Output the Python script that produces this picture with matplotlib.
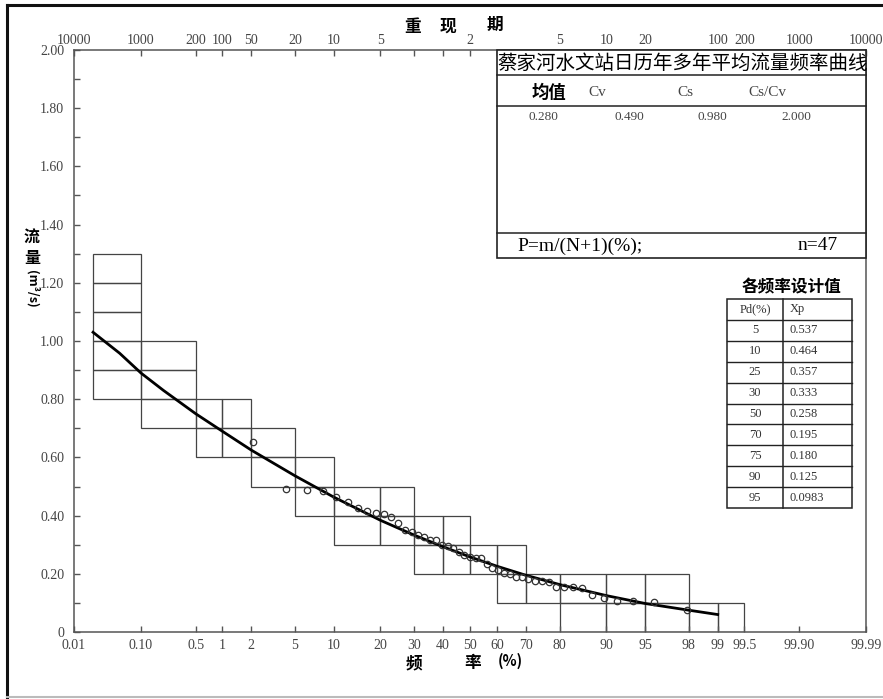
from statistics import NormalDist
import numpy as np
import matplotlib
matplotlib.use('Agg')
import matplotlib.pyplot as plt
from matplotlib.patches import Rectangle
from matplotlib.lines import Line2D

plt.rcParams['font.family'] = ['Noto Sans CJK SC', 'DejaVu Sans']

# ---- data ----
# empirical points, P = m/(N+1) (%)
emp_p = [2.08, 4.17, 6.25, 8.33, 10.42, 12.50, 14.58, 16.67, 18.75, 20.83,
         22.92, 25.00, 27.08, 29.17, 31.25, 33.33, 35.42, 37.50, 39.58, 41.67,
         43.75, 45.83, 47.92, 50.00, 52.08, 54.17, 56.25, 58.33, 60.42, 62.50,
         64.58, 66.67, 68.75, 70.83, 72.92, 75.00, 77.08, 79.17, 81.25, 83.33,
         85.42, 87.50, 89.58, 91.67, 93.75, 95.83, 97.92]
emp_q = [0.654, 0.490, 0.488, 0.485, 0.463, 0.447, 0.426, 0.417, 0.410, 0.407,
         0.396, 0.376, 0.351, 0.344, 0.334, 0.325, 0.316, 0.315, 0.300, 0.297,
         0.288, 0.275, 0.266, 0.257, 0.254, 0.253, 0.234, 0.220, 0.213, 0.204,
         0.198, 0.190, 0.188, 0.182, 0.176, 0.174, 0.173, 0.156, 0.156, 0.154,
         0.152, 0.127, 0.118, 0.108, 0.108, 0.104, 0.076]

# fitted frequency curve
curve_p = [0.02, 0.05, 0.1, 0.2, 0.5, 1, 2, 5, 10, 20, 25, 30, 40, 50,
           60, 70, 75, 80, 90, 95, 98, 99]
curve_q = [1.03, 0.958, 0.89, 0.83, 0.75, 0.69, 0.625, 0.537, 0.464, 0.384,
           0.357, 0.333, 0.293, 0.258, 0.226, 0.195, 0.180, 0.163, 0.125,
           0.098, 0.075, 0.060]

# staircase grid boxes: (lower edge of row, column edges in %)
grid_rows = [
    (1.2, [0.02, 0.1]),
    (1.1, [0.02, 0.1]),
    (1.0, [0.02, 0.1]),
    (0.9, [0.02, 0.1, 0.5]),
    (0.8, [0.02, 0.1, 0.5]),
    (0.7, [0.1, 0.5, 1, 2]),
    (0.6, [0.5, 1, 2, 5]),
    (0.5, [2, 5, 10]),
    (0.4, [5, 10, 20, 30]),
    (0.3, [10, 20, 30, 40, 50]),
    (0.2, [30, 40, 50, 60, 70]),
    (0.1, [60, 70, 80, 90, 95, 98]),
    (0.0, [80, 90, 95, 98, 99, 99.5]),
]
row_h = 0.1

prob_ticks = [0.01, 0.1, 0.5, 1, 2, 5, 10, 20, 30, 40, 50, 60, 70, 80, 90,
              95, 98, 99, 99.5, 99.9, 99.99]
prob_labels = ['0.01', '0.10', '0.5', '1', '2', '5', '10', '20', '30', '40',
               '50', '60', '70', '80', '90', '95', '98', '99', '99.5',
               '99.90', '99.99']
period_labels = ['10000', '1000', '200', '100', '50', '20', '10', '5', '', '',
                 '2', '', '', '5', '10', '20', '', '100', '200', '1000',
                 '10000']
q_ticks = [0, 0.2, 0.4, 0.6, 0.8, 1.0, 1.2, 1.4, 1.6, 1.8, 2.0]
q_labels = ['0', '0.20', '0.40', '0.60', '0.80', '1.00', '1.20', '1.40',
            '1.60', '1.80', '2.00']

stat_names = ['均值', 'Cv', 'Cs', 'Cs/Cv']
stat_vals = ['0.280', '0.490', '0.980', '2.000']
n_obs = 47

design_p = ['5', '10', '25', '30', '50', '70', '75', '90', '95']
design_x = ['0.537', '0.464', '0.357', '0.333', '0.258', '0.195', '0.180',
            '0.125', '0.0983']

title = '蔡家河水文站日历年多年平均流量频率曲线'

# ---- probability scale ----
_nd = NormalDist()
_fwd = np.vectorize(lambda p: _nd.inv_cdf(min(max(p / 100.0, 1e-9), 1 - 1e-9)),
                    otypes=[float])
_inv = np.vectorize(lambda z: _nd.cdf(z) * 100.0, otypes=[float])


def fwd(p):
    return _fwd(np.asarray(p, dtype=float))


def inv(z):
    return _inv(np.asarray(z, dtype=float))


W, H = 883, 699


def fx(x):
    return x / W


def fy(y):
    return 1 - y / H


fig = plt.figure(figsize=(W / 100, H / 100), dpi=100)
ax = fig.add_axes([fx(74), fy(632), fx(866) - fx(74), fy(50) - fy(632)])
ax.set_xscale('function', functions=(fwd, inv))

axis_col = '#555555'
lbl_col = '#444444'
num_font = 'Liberation Serif'

# grid boxes
for y0, edges in grid_rows:
    for a, b in zip(edges[:-1], edges[1:]):
        ax.add_patch(Rectangle((a, y0), b - a, row_h, fill=False,
                               ec='#444444', lw=0.9, zorder=1))

ax.plot(curve_p, curve_q, color='black', lw=2.0, zorder=3)
ax.plot(emp_p, emp_q, 'o', ms=4.6, mfc='none', mec='#333333', mew=0.9,
        zorder=4)

ax.set_xlim(0.01, 99.99)
ax.set_ylim(0, 2.0)

ax.set_xticks(prob_ticks)
ax.set_xticklabels(prob_labels, family=num_font, fontsize=10, color=lbl_col)
ax.xaxis.set_minor_locator(matplotlib.ticker.NullLocator())
ax.set_yticks(q_ticks)
ax.set_yticklabels(q_labels, family=num_font, fontsize=10, color=lbl_col)
ax.set_yticks(np.arange(0.1, 2.0, 0.2), minor=True)
ax.tick_params(axis='both', which='both', direction='in', length=4,
               width=1, color=axis_col)
ax.tick_params(axis='x', pad=5)
ax.tick_params(axis='y', pad=7)
for s in ax.spines.values():
    s.set_color(axis_col)
    s.set_linewidth(1.1)

# return period axis on top
ax_top = ax.twiny()
ax_top.set_xscale('function', functions=(fwd, inv))
ax_top.set_xlim(0.01, 99.99)
ax_top.set_xticks(prob_ticks)
ax_top.set_xticklabels(period_labels, family=num_font, fontsize=10,
                       color=lbl_col)
ax_top.xaxis.set_minor_locator(matplotlib.ticker.NullLocator())
ax_top.tick_params(axis='x', direction='in', length=4, width=1,
                   color=axis_col, pad=2)
for s in ax_top.spines.values():
    s.set_visible(False)

# axis titles
for ch, x, y in [('重', 413, 27), ('现', 448, 27), ('期', 495, 25)]:
    fig.text(fx(x), fy(y), ch, ha='center', va='center', fontsize=12,
             fontweight='bold')
for ch, x, y in [('频', 414, 663), ('率', 473, 663)]:
    fig.text(fx(x), fy(y), ch, ha='center', va='center', fontsize=12,
             fontweight='bold')
fig.text(fx(510), fy(661), '(%)', ha='center', va='center', fontsize=10.5,
         fontweight='bold')
fig.text(fx(32), fy(237), '流', ha='center', va='center', fontsize=11.5,
         fontweight='bold')
fig.text(fx(32), fy(258), '量', ha='center', va='center', fontsize=11.5,
         fontweight='bold')
fig.text(fx(32), fy(289), '(m³/s)', ha='center', va='center', fontsize=9,
         fontweight='bold', rotation=-90)

# statistics box
fig.add_artist(Rectangle((fx(497), fy(258)), fx(866) - fx(497),
                         fy(50) - fy(258), transform=fig.transFigure,
                         fc='white', ec='#222222', lw=1.2, zorder=5))
for yy in [75, 106, 233]:
    fig.add_artist(Line2D([fx(497), fx(866)], [fy(yy), fy(yy)],
                          transform=fig.transFigure, color='#222222',
                          lw=1.1, zorder=6))
fig.text(fx(683), fy(63), title, ha='center', va='center', fontsize=14,
         zorder=7)
fig.text(fx(549), fy(93), stat_names[0], ha='center', va='center',
         fontsize=12.5, fontweight='bold', zorder=7)
for name, x in zip(stat_names[1:], [597, 685, 767]):
    fig.text(fx(x), fy(92), name, ha='center', va='center', family=num_font,
             fontsize=11, color=lbl_col, zorder=7)
for val, x in zip(stat_vals, [543, 629, 712, 796]):
    fig.text(fx(x), fy(117), val, ha='center', va='center', family=num_font,
             fontsize=9.5, color=lbl_col, zorder=7)
fig.text(fx(517), fy(246), 'P=m/(N+1)(%);', ha='left', va='center',
         family=num_font, fontsize=14, zorder=7)
fig.text(fx(838), fy(246), 'n=%d' % n_obs, ha='right', va='center',
         family=num_font, fontsize=14, zorder=7)

# design value table
fig.text(fx(791), fy(287), '各频率设计值', ha='center', va='center',
         fontsize=12, fontweight='bold', zorder=7)
tx0, tx1, tmid = 727, 852, 783
ty0, row_px = 299, 20.9
n_rows = len(design_p) + 1
fig.add_artist(Rectangle((fx(tx0), fy(ty0 + n_rows * row_px)), fx(tx1) - fx(tx0),
                         fy(ty0) - fy(ty0 + n_rows * row_px),
                         transform=fig.transFigure, fc='white', ec='#222222',
                         lw=1.1, zorder=5))
fig.add_artist(Line2D([fx(tmid), fx(tmid)], [fy(ty0), fy(ty0 + n_rows * row_px)],
                      transform=fig.transFigure, color='#222222', lw=1.1,
                      zorder=6))
for i in range(1, n_rows):
    yy = ty0 + i * row_px
    fig.add_artist(Line2D([fx(tx0), fx(tx1)], [fy(yy), fy(yy)],
                          transform=fig.transFigure, color='#222222',
                          lw=1.0, zorder=6))
cells = [('Pd(%)', 'Xp')] + list(zip(design_p, design_x))
for i, (a, b) in enumerate(cells):
    yc = ty0 + (i + 0.5) * row_px
    fig.text(fx(755), fy(yc), a, ha='center', va='center', family=num_font,
             fontsize=9, color='#333333', zorder=7)
    fig.text(fx(790), fy(yc), b, ha='left', va='center', family=num_font,
             fontsize=9, color='#333333', zorder=7)

# outer frame
fig.add_artist(Line2D([fx(7), fx(7)], [fy(5), fy(697)],
                      transform=fig.transFigure, color='#111111', lw=2.2))
fig.add_artist(Line2D([fx(7), fx(883)], [fy(5), fy(5)],
                      transform=fig.transFigure, color='#111111', lw=2.2))
fig.add_artist(Line2D([fx(7), fx(883)], [fy(697), fy(697)],
                      transform=fig.transFigure, color='#bbbbbb', lw=1.5))

fig.savefig('out.png', dpi=100, facecolor='white')
